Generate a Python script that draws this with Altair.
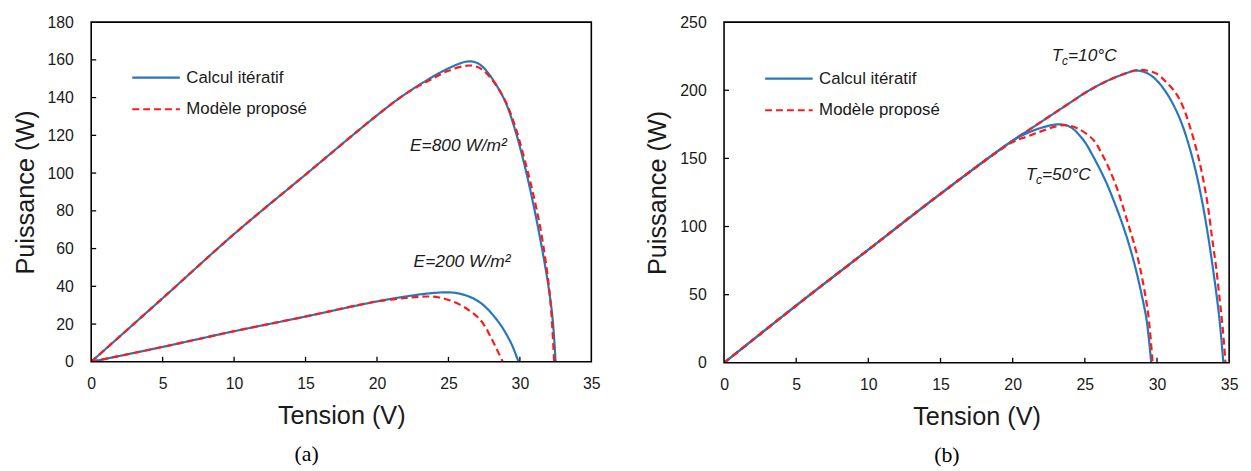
import altair as alt
import pandas as pd

BLUE = "#2677BC"
RED = "#FF1A1A"
METHODS = ["Calcul itératif", "Modèle proposé"]

# ---------------- Panel (a) data ----------------
a800_blue_v = [0, 5, 10, 15, 20, 22, 24, 25, 26, 26.5, 27, 27.5, 28.2, 29, 29.7, 30.3, 30.9, 31.5, 32, 32.3, 32.5]
a800_blue_p = [0, 33.7, 67.7, 99.2, 130.6, 142, 151.5, 155.5, 158.6, 159.2, 158.4, 155.5, 148.5, 137.5, 122, 105, 85, 62, 40, 22, 0]
a800_red_v = [0, 5, 10, 15, 20, 22, 24, 25, 26, 26.5, 27, 27.5, 28.2, 29, 29.7, 30.3, 30.9, 31.5, 32, 32.2, 32.4]
a800_red_p = [0, 33.7, 67.7, 99.2, 130.6, 142, 150.5, 154.2, 156.6, 157, 156.3, 154, 148, 138, 124, 108, 90, 68, 42, 26, 0]
a200_blue_v = [0, 5, 10, 15, 20, 22, 23, 24, 24.8, 25.5, 26.3, 27, 27.6, 28.2, 28.7, 29.1, 29.5, 29.9]
a200_blue_p = [0, 7.9, 16.2, 24, 32, 34.6, 35.7, 36.5, 36.8, 36.5, 35, 32.5, 29, 24, 19, 14, 8, 0]
a200_red_v = [0, 5, 10, 15, 20, 22, 23, 23.6, 24.3, 25, 25.8, 26.5, 27, 27.5, 27.9, 28.3, 28.8]
a200_red_p = [0, 7.9, 16.2, 24, 32, 33.8, 34.5, 34.6, 34.2, 32.8, 30.3, 27, 24, 19.5, 14, 8, 0]

# ---------------- Panel (b) data ----------------
b10_blue_v = [0, 5, 10, 15, 20, 21, 22, 23, 24, 25, 26, 27, 28, 28.4, 29, 29.5, 30, 30.6, 31.2, 31.7, 32.2, 32.7, 33.1, 33.5, 33.8, 34.1, 34.35, 34.6]
b10_blue_p = [0, 42, 83, 124, 163, 170, 177, 184, 191, 198, 204, 209, 213, 214.4, 213.8, 211.5, 207, 199, 188, 176, 160, 140, 120, 96, 75, 52, 30, 0]
b10_red_v = [0, 5, 10, 15, 20, 21, 22, 23, 24, 25, 26, 27, 28, 28.75, 29.5, 30, 30.6, 31.3, 31.8, 32.2, 32.7, 33.1, 33.5, 33.8, 34.1, 34.35, 34.55, 34.75]
b10_red_p = [0, 42, 83, 124, 163, 170, 177, 184, 191, 198, 204, 209, 213, 215, 214, 212, 206.5, 198, 188, 176, 158, 140, 117, 93, 70, 46, 26, 0]
b50_blue_v = [0, 5, 10, 15, 20, 21, 22, 23.2, 24, 24.9, 25.5, 26, 26.5, 27, 27.5, 28, 28.5, 29, 29.3, 29.6]
b50_blue_p = [0, 42, 83, 124, 163, 168.5, 172.5, 175, 173, 163.5, 153, 143, 132, 119, 105, 89, 70, 47, 30, 0]
b50_red_v = [0, 5, 10, 15, 20, 21, 22, 23, 23.65, 24.5, 25.6, 26.2, 26.7, 27.2, 27.6, 28, 28.4, 28.8, 29.1, 29.4, 29.7]
b50_red_p = [0, 42, 83, 124, 162, 166, 170, 173.5, 174.4, 172, 163.5, 153, 142, 129, 116, 102, 88, 71, 55, 35, 0]

x_ticks = [0, 5, 10, 15, 20, 25, 30, 35]
a_y_ticks = [0, 20, 40, 60, 80, 100, 120, 140, 160, 180]
b_y_ticks = [0, 50, 100, 150, 200, 250]

a_labels = ["E=800 W/m²", "E=200 W/m²"]
a_label_v = [25.7, 25.95]
a_label_p = [114.5, 53]

b_label_rest = ["=10°C", "=50°C"]
b_label_v = [22.7, 20.9]
b_label_p = [225, 137.6]


def curves(items):
    rows = []
    for curve, method, vs, ps in items:
        for i, (v, p) in enumerate(zip(vs, ps)):
            rows.append({"curve": curve, "method": method, "V": v, "P": p, "order": i})
    return pd.DataFrame(rows)


df_a = curves([
    ("800", METHODS[0], a800_blue_v, a800_blue_p),
    ("800", METHODS[1], a800_red_v, a800_red_p),
    ("200", METHODS[0], a200_blue_v, a200_blue_p),
    ("200", METHODS[1], a200_red_v, a200_red_p),
])
df_b = curves([
    ("10", METHODS[0], b10_blue_v, b10_blue_p),
    ("10", METHODS[1], b10_red_v, b10_red_p),
    ("50", METHODS[0], b50_blue_v, b50_blue_p),
    ("50", METHODS[1], b50_red_v, b50_red_p),
])

FONT = "Liberation Sans"
TXT = "#1a1a1a"
XS = alt.Scale(domain=[0, 35], nice=False, zero=False)
AX_X = alt.Axis(
    values=x_ticks, title="Tension (V)", ticks=False, domain=False, grid=False,
    labelFlush=False, labelOverlap=False,
    labelFontSize=16, labelFont=FONT, labelColor=TXT, labelPadding=14,
    titleFontSize=25.5, titleFont=FONT, titleFontWeight="normal", titleColor=TXT,
    titlePadding=12)


def y_axis(yticks):
    return alt.Axis(
        values=yticks, title="Puissance (W)", ticks=False, domain=False, grid=False,
        labelFlush=False, labelOverlap=False,
        labelFontSize=16, labelFont=FONT, labelColor=TXT, labelPadding=18,
        titleFontSize=25.5, titleFont=FONT, titleFontWeight="normal", titleColor=TXT,
        titlePadding=9)


def panel(df, ymax, yticks, width, height, legend_x, legend_y, caption, caption_dx, extra_fn):
    ys = alt.Scale(domain=[0, ymax], nice=False)
    ay = y_axis(yticks)
    leg = alt.Legend(
        title=None, orient="none", legendX=legend_x, legendY=legend_y,
        symbolType="stroke", symbolSize=2304, symbolStrokeWidth=2.2,
        labelFontSize=17, labelFont=FONT, labelColor=TXT, clipHeight=20,
        rowPadding=12, labelOffset=5, symbolOffset=0, padding=0,
    )
    lines = alt.Chart(df).mark_line(strokeWidth=2.2, interpolate="catmull-rom", clip=True).encode(
        x=alt.X("V:Q", scale=XS, axis=AX_X),
        y=alt.Y("P:Q", scale=ys, axis=ay),
        color=alt.Color("method:N", scale=alt.Scale(domain=METHODS, range=[BLUE, RED]), legend=leg),
        strokeDash=alt.StrokeDash("method:N", scale=alt.Scale(domain=METHODS, range=[[1, 0], [7, 4]]), legend=leg),
        detail="curve:N",
        order="order:Q",
    )
    xt = pd.DataFrame({"t": [t for t in x_ticks if 0 < t < 35]})
    yt = pd.DataFrame({"t": [t for t in yticks if 0 < t < ymax]})
    xtick_layer = alt.Chart(xt).mark_rule(color="black", strokeWidth=1.3).encode(
        x=alt.X("t:Q", scale=XS, axis=AX_X), y=alt.value(height), y2=alt.value(height - 5))
    ytick_layer = alt.Chart(yt).mark_rule(color="black", strokeWidth=1.3).encode(
        y=alt.Y("t:Q", scale=ys, axis=ay), x=alt.value(0), x2=alt.value(5))
    frame = alt.Chart(pd.DataFrame({"k": [0]})).mark_rect(
        fillOpacity=0, stroke="black", strokeWidth=1.6).encode(
        x=alt.value(0), x2=alt.value(width), y=alt.value(0), y2=alt.value(height))
    extra = extra_fn(ys, ay)
    return alt.layer(lines, xtick_layer, ytick_layer, *extra, frame).properties(
        width=width, height=height,
        title=alt.TitleParams(text=caption, orient="bottom", font="Liberation Serif", fontSize=22,
                              fontWeight="normal", color="black", anchor="middle", frame="group",
                              dx=caption_dx, offset=16))


ann_a = pd.DataFrame({"t": a_labels, "V": a_label_v, "P": a_label_p})
ann_b = pd.DataFrame({"t": b_label_rest, "V": b_label_v, "P": b_label_p})


def extras_a(ys, ay):
    return [alt.Chart(ann_a).mark_text(font=FONT, fontSize=17.5, fontStyle="italic", color=TXT).encode(
        x=alt.X("V:Q", scale=XS, axis=AX_X), y=alt.Y("P:Q", scale=ys, axis=ay), text="t:N")]


def extras_b(ys, ay):
    enc = dict(x=alt.X("V:Q", scale=XS, axis=AX_X), y=alt.Y("P:Q", scale=ys, axis=ay))
    t_layer = alt.Chart(ann_b).mark_text(font=FONT, fontSize=17.5, fontStyle="italic", color=TXT,
                                         align="left").encode(text=alt.value("T"), **enc)
    c_layer = alt.Chart(ann_b).mark_text(font=FONT, fontSize=12, fontStyle="italic", color=TXT,
                                         align="left", dx=10.5, dy=5).encode(text=alt.value("c"), **enc)
    r_layer = alt.Chart(ann_b).mark_text(font=FONT, fontSize=17.5, fontStyle="italic", color=TXT,
                                         align="left", dx=16.5).encode(text="t:N", **enc)
    return [t_layer, c_layer, r_layer]


pa = panel(df_a, 180, a_y_ticks, 505, 343, 40, 46, "(a)", -35, extras_a)
pb = panel(df_b, 250, b_y_ticks, 510, 344, 40, 47, "(b)", -30, extras_b)

chart = alt.hconcat(pa, pb, spacing=46).resolve_scale(
    color="independent", strokeDash="independent").resolve_legend(
    color="independent", strokeDash="independent").configure(
    background="white", padding={"left": 5, "top": 4, "right": 5, "bottom": 2}).configure_view(
    strokeWidth=0)

chart.save("out.html", embed_options={"renderer": "svg", "actions": False})
